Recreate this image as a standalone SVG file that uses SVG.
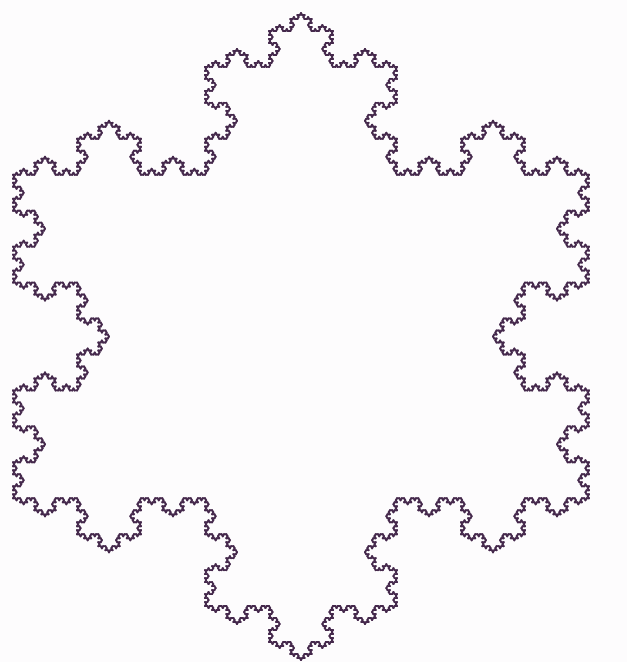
<svg xmlns="http://www.w3.org/2000/svg" xmlns:xlink="http://www.w3.org/1999/xlink" width="627" height="662" viewBox="0 0 627 662">
  <style>
    .koch { fill: none; stroke: #45294c; stroke-width: 1.9; stroke-linecap: round; }
  </style>
  <defs>
    <line id="k0" x1="0" y1="0" x2="2.3058" y2="0"/>
    <g id="k1">
      <use href="#k0"/>
      <use href="#k0" transform="translate(2.3058,0) rotate(-60)"/>
      <use href="#k0" transform="translate(3.4587,-1.9969) rotate(60)"/>
      <use href="#k0" transform="translate(4.6116,0)"/>
    </g>
    <g id="k2">
      <use href="#k1"/>
      <use href="#k1" transform="translate(6.9174,0) rotate(-60)"/>
      <use href="#k1" transform="translate(10.3761,-5.9907) rotate(60)"/>
      <use href="#k1" transform="translate(13.8348,0)"/>
    </g>
    <g id="k3">
      <use href="#k2"/>
      <use href="#k2" transform="translate(20.7522,0) rotate(-60)"/>
      <use href="#k2" transform="translate(31.1283,-17.9719) rotate(60)"/>
      <use href="#k2" transform="translate(41.5044,0)"/>
    </g>
    <g id="k4">
      <use href="#k3"/>
      <use href="#k3" transform="translate(62.2566,0) rotate(-60)"/>
      <use href="#k3" transform="translate(93.3849,-53.9158) rotate(60)"/>
      <use href="#k3" transform="translate(124.5132,0)"/>
    </g>
    <g id="k5">
      <use href="#k4"/>
      <use href="#k4" transform="translate(186.7698,0) rotate(-60)"/>
      <use href="#k4" transform="translate(280.1547,-161.7474) rotate(60)"/>
      <use href="#k4" transform="translate(373.5396,0)"/>
    </g>
  </defs>
  <rect width="627" height="662" fill="#fdfcfd"/>
  <g id="snowflake" class="koch" transform="translate(301,336.5) scale(1.028,1)">
    <use href="#k5" transform="translate(0,-323.5) rotate(60)"/>
    <use href="#k5" transform="translate(280.1547,161.7421) rotate(180)"/>
    <use href="#k5" transform="translate(-280.1547,161.7421) rotate(-60)"/>
  </g>
</svg>
